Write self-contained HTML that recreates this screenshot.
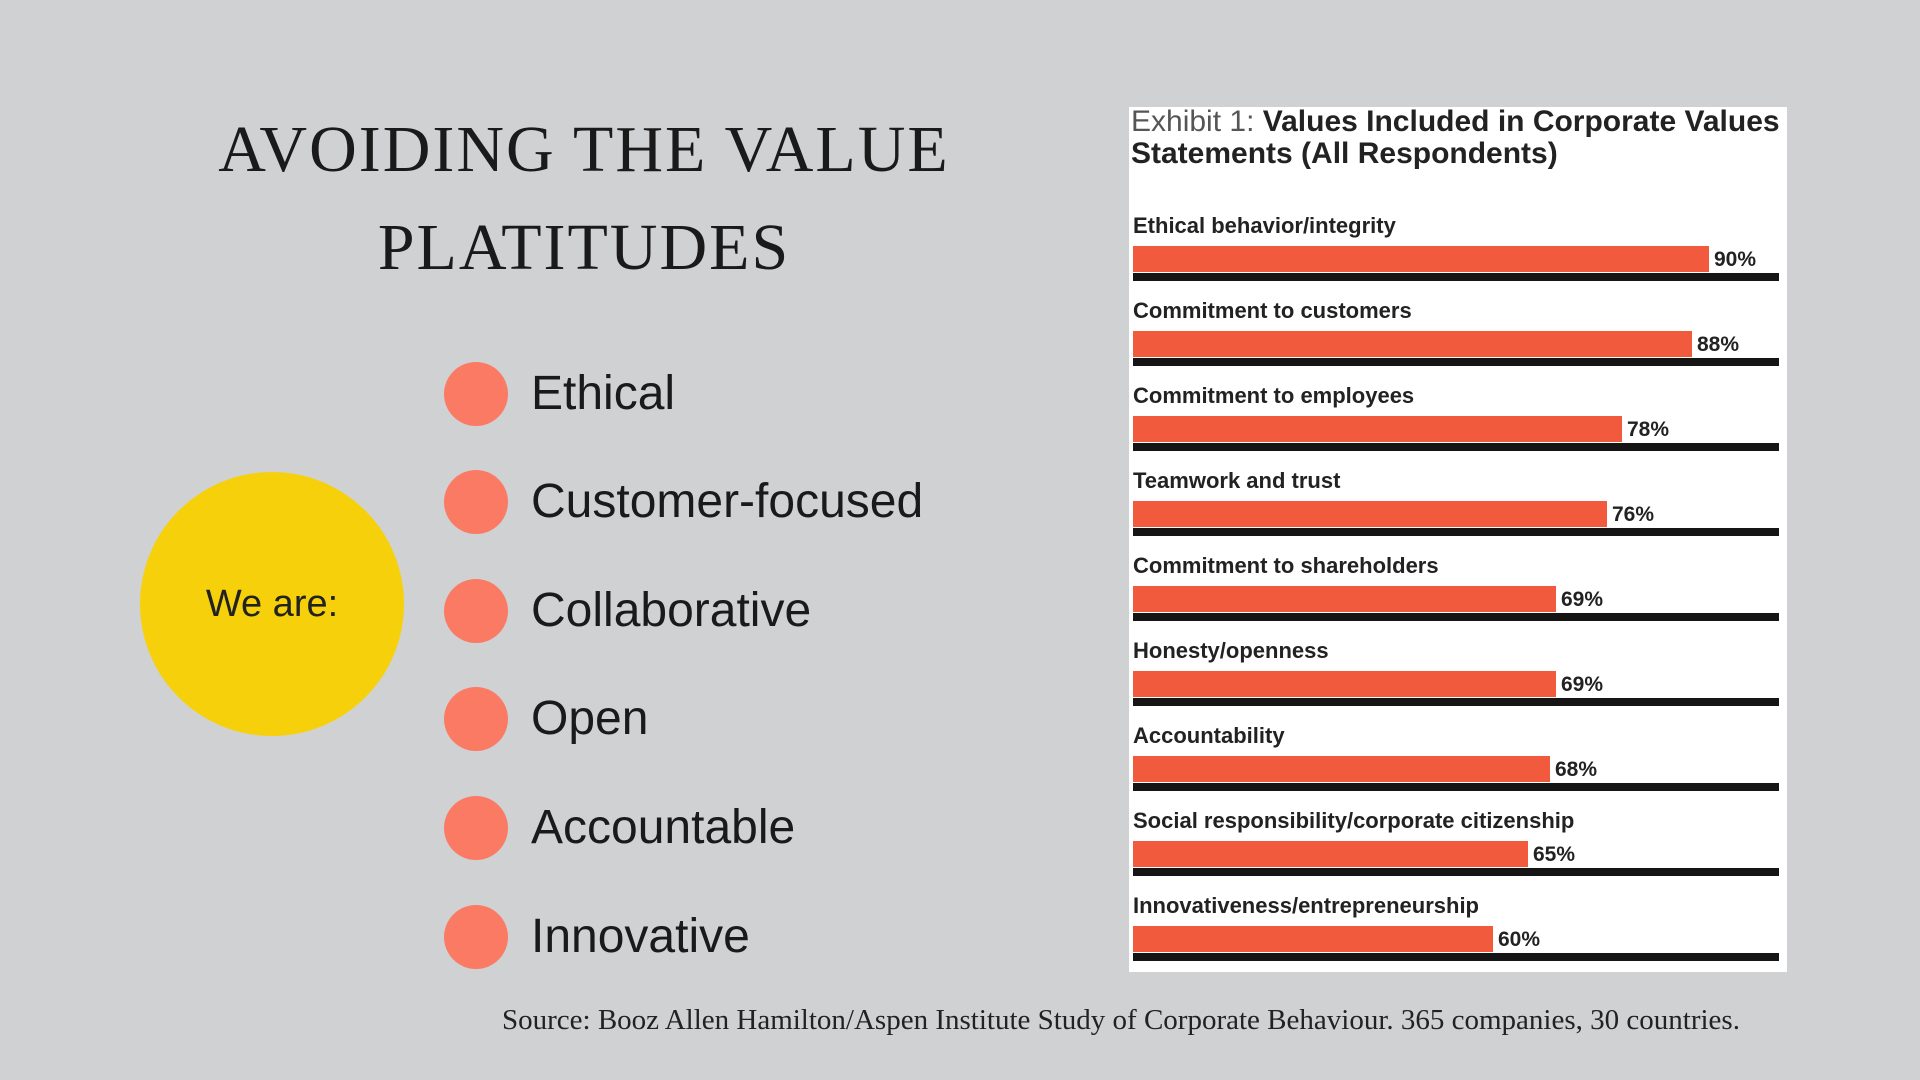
<!DOCTYPE html>
<html><head><meta charset="utf-8"><style>
body{margin:0;width:1920px;height:1080px;background:#d0d1d3;position:relative;overflow:hidden;font-family:"Liberation Sans",sans-serif}
.t{position:absolute;left:0;width:1168px;text-align:center;font-family:"Liberation Serif",serif;font-size:66px;color:#1a1a1a;letter-spacing:2px}
.yc{position:absolute;left:140px;top:472px;width:264px;height:264px;border-radius:50%;background:#f6d10b;display:flex;align-items:center;justify-content:center;font-size:38px;color:#222}
.b{position:absolute;left:444px;width:64px;height:64px;border-radius:50%;background:#fa7a64}
.bt{position:absolute;left:531px;font-size:48px;color:#1a1a1a;line-height:1}
.panel{position:absolute;left:1129px;top:107px;width:658px;height:865px;background:#fff}
.n{font-family:"Liberation Sans Narrow","Liberation Sans",sans-serif;font-weight:bold;color:#222}
.lab{position:absolute;left:1133px;font-size:22px}
.bar{position:absolute;left:1133px;height:26px;background:#f15a3c}
.ln{position:absolute;left:1133px;width:646px;height:8px;background:#151515}
.p{position:absolute;font-size:21px}
.src{position:absolute;left:502px;top:1004px;font-family:"Liberation Serif",serif;font-size:29px;color:#222}
</style></head><body>
<div class="t" style="top:112px">AVOIDING THE VALUE</div>
<div class="t" style="top:210px">PLATITUDES</div>
<div class="yc">We are:</div>
<div class="b" style="top:362px"></div><div class="bt" style="top:370px">Ethical</div>
<div class="b" style="top:470px"></div><div class="bt" style="top:478px">Customer-focused</div>
<div class="b" style="top:579px"></div><div class="bt" style="top:587px">Collaborative</div>
<div class="b" style="top:687px"></div><div class="bt" style="top:695px">Open</div>
<div class="b" style="top:796px"></div><div class="bt" style="top:804px">Accountable</div>
<div class="b" style="top:905px"></div><div class="bt" style="top:913px">Innovative</div>
<div class="panel"></div>
<div class="n" style="position:absolute;left:1131px;top:106px;font-size:30px;line-height:32px"><span style="font-weight:normal;color:#555">Exhibit 1:</span> Values Included in Corporate Values<br>Statements (All Respondents)</div>
<div class="n lab" style="top:213px">Ethical behavior/integrity</div><div class="bar" style="top:246px;width:576px"></div><div class="ln" style="top:273px"></div><div class="n p" style="left:1714px;top:248px">90%</div>
<div class="n lab" style="top:298px">Commitment to customers</div><div class="bar" style="top:331px;width:559px"></div><div class="ln" style="top:358px"></div><div class="n p" style="left:1697px;top:333px">88%</div>
<div class="n lab" style="top:383px">Commitment to employees</div><div class="bar" style="top:416px;width:489px"></div><div class="ln" style="top:443px"></div><div class="n p" style="left:1627px;top:418px">78%</div>
<div class="n lab" style="top:468px">Teamwork and trust</div><div class="bar" style="top:501px;width:474px"></div><div class="ln" style="top:528px"></div><div class="n p" style="left:1612px;top:503px">76%</div>
<div class="n lab" style="top:553px">Commitment to shareholders</div><div class="bar" style="top:586px;width:423px"></div><div class="ln" style="top:613px"></div><div class="n p" style="left:1561px;top:588px">69%</div>
<div class="n lab" style="top:638px">Honesty/openness</div><div class="bar" style="top:671px;width:423px"></div><div class="ln" style="top:698px"></div><div class="n p" style="left:1561px;top:673px">69%</div>
<div class="n lab" style="top:723px">Accountability</div><div class="bar" style="top:756px;width:417px"></div><div class="ln" style="top:783px"></div><div class="n p" style="left:1555px;top:758px">68%</div>
<div class="n lab" style="top:808px">Social responsibility/corporate citizenship</div><div class="bar" style="top:841px;width:395px"></div><div class="ln" style="top:868px"></div><div class="n p" style="left:1533px;top:843px">65%</div>
<div class="n lab" style="top:893px">Innovativeness/entrepreneurship</div><div class="bar" style="top:926px;width:360px"></div><div class="ln" style="top:953px"></div><div class="n p" style="left:1498px;top:928px">60%</div>
<div class="src">Source: Booz Allen Hamilton/Aspen Institute Study of Corporate Behaviour. 365 companies, 30 countries.</div>
</body></html>
